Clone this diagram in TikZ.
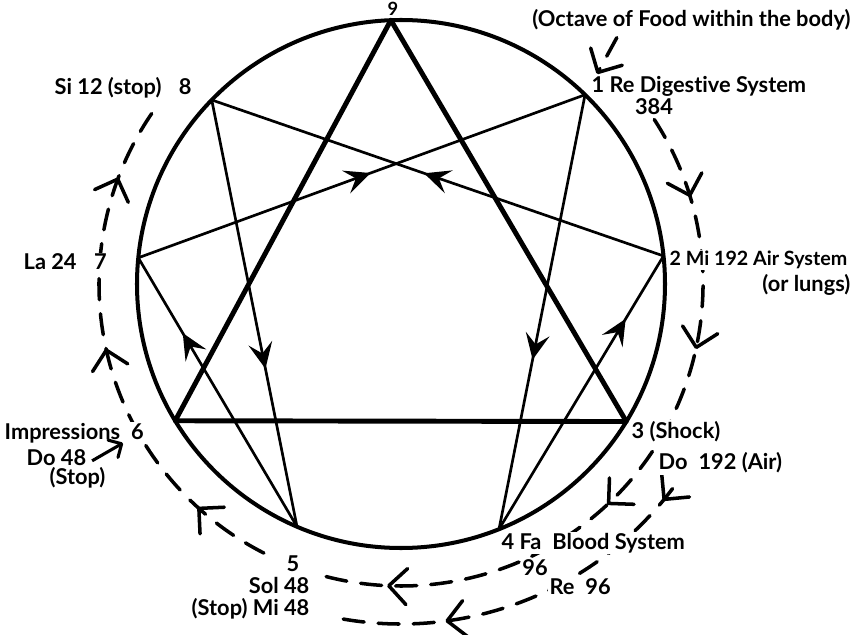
\documentclass[tikz,border=0pt]{standalone}
\usepackage{fontspec}
\setmainfont{Lato}[Ligatures={NoCommon}]
\usetikzlibrary{arrows.meta, decorations.markings, calc}
\tikzset{
  circulo/.style={line width=2.85pt},
  triangulo/.style={line width=3.5pt, line join=round},
  hexada/.style={line width=1.9pt},
  flecha/.style={postaction={decorate, decoration={markings, mark=at position #1 with {\arrow{Stealth[length=6.5mm,width=6mm,inset=2.6mm]}}}}},
  octava/.style={line width=2.5pt, line cap=round, dash pattern=on 15pt off 10pt},
  punta/.style={postaction={decorate, decoration={markings, mark=at position #1 with {\arrow{Straight Barb[length=4.5mm,width=9mm,round]}}}}},
  etiqueta/.style={font=\bfseries\fontsize{15.5}{17}\selectfont, fill=white, inner sep=1pt},
  solida/.style={line width=2.2pt, -{Straight Barb[length=2.5mm,width=5mm,round]}}
}
\begin{document}
\begin{tikzpicture}
        \useasboundingbox (-10.025,-8.75) rectangle (11.4,7.1);

        % Puntos del eneagrama
        \foreach \n/\a in {9/92.2, 1/45.8, 2/6.1, 3/-31.4, 4/-68.2, 5/-113.2, 6/-148.8, 7/174.3, 8/135.8}
          \coordinate (p\n) at (\a:6.6);

        % Triángulo y héxada
        \draw[triangulo] (p9) -- (p3) -- (p6) -- cycle;
        \foreach \a/\b/\pos in {1/4/0.61, 4/2/0.77, 2/8/0.53, 8/5/0.63, 5/7/0.72, 7/1/0.52}
          \draw[hexada, flecha=\pos] (p\a) -- (p\b);

        % Círculo exterior
        \draw[circulo] (0,0) circle (6.6);

        % Octavas (líneas discontinuas)
        \draw[octava, punta=0.117, punta=0.327, punta=0.575, punta=0.904] (33:7.55) arc[start angle=33, end angle=-106, radius=7.55];
        \draw[octava, punta=0.04, punta=0.7] (-37:8.5) arc[start angle=-37, end angle=-102, radius=8.5];
        \draw[octava, punta=0.155, punta=0.512, punta=0.845] (-117:7.55) arc[start angle=-117, end angle=-216, radius=7.55];

        % Textos
        \node[etiqueta, fill=none, font=\bfseries\fontsize{13}{14}\selectfont, inner sep=0pt] (n9) at (-0.2, 6.88) {9};
        \node[etiqueta] (octava) at (7.26, 6.6) {(Octave of Food within the body)};
        \node[etiqueta, anchor=west] (n1) at (4.725, 4.95) {1 Re Digestive System};
        \node[etiqueta] (n384) at (6.325, 4.425) {384};
        \node[etiqueta, anchor=west, font=\bfseries\fontsize{14}{16}\selectfont] (n2) at (6.675, 0.6) {2 Mi 192 Air System};
        \node[etiqueta, anchor=east] (pulmones) at (11.275, -0.025) {(or lungs)};
        \node[etiqueta, anchor=west] (n3) at (5.725, -3.7) {3 (Shock)};
        \node[etiqueta, anchor=west] (do192) at (6.4, -4.475) {Do\enspace 192 (Air)};
        \node[etiqueta, anchor=west] (n4) at (2.475, -6.475) {4 Fa\enspace Blood System};
        \node[etiqueta] (n96) at (3.35, -7.1) {96};
        \node[etiqueta, anchor=west] (re96) at (3.675, -7.575) {Re\enspace 96};
        \node[etiqueta] (n5) at (-2.7, -7.0) {5};
        \node[etiqueta, anchor=east] (sol48) at (-2.25, -7.525) {Sol 48};
        \node[etiqueta, anchor=east] (mi48) at (-2.25, -8.125) {(Stop) Mi 48};
        \node[etiqueta, anchor=west] (n6) at (-9.95, -3.725) {Impressions\enspace 6};
        \node[etiqueta, anchor=west] (do48) at (-9.4, -4.35) {Do 48};
        \node[etiqueta, anchor=west] (stop6) at (-8.825, -4.85) {(Stop)};
        \node[etiqueta, anchor=west] (n7) at (-9.475, 0.55) {La 24\hspace{0.8em}7};
        \node[etiqueta, anchor=west] (n8) at (-8.7, 4.9) {Si 12 (stop)\hspace{0.8em}8};

        % Flechas sueltas
        \coordinate (alimento) at (4.9, 5.25);
        \coordinate (seis) at (-6.95, -3.975);
        \draw[octava, -{Straight Barb[length=4.5mm,width=9mm,round]}] ($(octava.south west)!0.268!(octava.south east)$) ++(0,-4pt) -- (alimento);
        \draw[solida] ([xshift=3pt,yshift=-2pt]do48.east) -- (seis);
\end{tikzpicture}
\end{document}
